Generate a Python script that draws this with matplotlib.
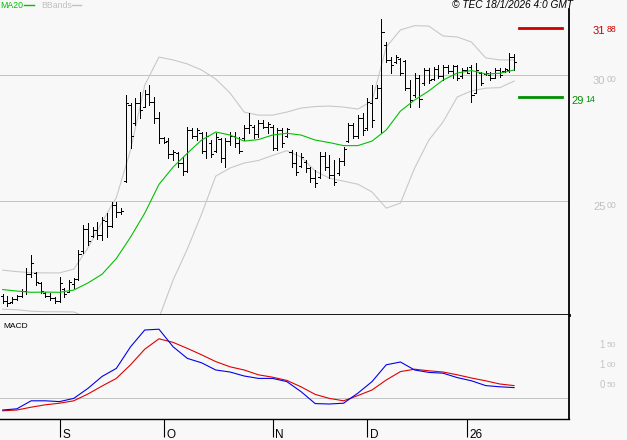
import matplotlib
matplotlib.use('Agg')
import matplotlib.pyplot as plt
import matplotlib.transforms as mtransforms
from matplotlib.lines import Line2D

plt.rcParams['font.family'] = ['Liberation Sans', 'DejaVu Sans']

# ---------------- data ----------------
high = [21.31, 21.23, 21.19, 21.27, 21.51, 22.34, 22.86, 22.18, 21.79, 21.39,
        21.35, 21.19, 21.98, 21.55, 21.86, 21.94, 23.06, 24.05, 24.13, 23.97,
        24.17, 24.37, 24.52, 24.96, 24.96, 24.72, 29.21, 28.89, 29.09, 29.33,
        29.41, 29.60, 29.13, 28.53, 27.54, 27.50, 27.02, 26.94, 26.75, 27.94,
        27.90, 27.90, 27.74, 27.74, 27.42, 27.70, 27.50, 27.50, 27.74, 27.74,
        27.54, 28.02, 28.49, 28.02, 28.21, 28.21, 28.14, 28.02, 27.90, 27.90,
        27.90, 27.02, 26.94, 26.90, 26.63, 26.35, 26.23, 26.94, 26.94, 26.83,
        26.63, 26.71, 27.14, 28.10, 28.10, 28.41, 28.49, 29.09, 29.60, 29.60,
        32.22, 31.31, 30.71, 30.79, 30.67, 30.60, 29.80, 30.08, 30.00, 30.28,
        30.28, 30.32, 30.40, 30.40, 30.40, 30.40, 30.40, 30.28, 30.32, 30.40,
        30.48, 30.12, 30.16, 30.12, 30.28, 30.28, 30.28, 30.87, 30.83]
low = [20.95, 20.83, 20.95, 21.07, 21.19, 21.31, 21.98, 21.67, 21.35, 21.19,
       21.07, 20.95, 20.99, 21.19, 21.39, 21.55, 21.86, 22.94, 23.25, 23.57,
       23.49, 23.45, 23.57, 23.97, 24.37, 24.48, 25.75, 27.10, 28.02, 28.29,
       28.73, 28.81, 28.10, 27.30, 27.30, 26.71, 26.63, 26.35, 26.03, 26.15,
       27.50, 27.42, 26.90, 26.71, 26.75, 26.94, 26.55, 26.35, 27.22, 27.14,
       26.90, 27.42, 27.70, 27.50, 27.54, 27.90, 27.70, 27.02, 27.02, 27.14,
       27.54, 26.35, 26.03, 26.35, 26.15, 25.75, 25.56, 25.91, 26.23, 25.91,
       25.63, 26.03, 26.43, 27.34, 27.50, 27.50, 27.62, 27.82, 27.94, 29.09,
       27.70, 30.52, 30.08, 30.48, 30.00, 29.41, 28.73, 29.13, 28.73, 29.60,
       29.68, 29.80, 29.88, 29.80, 30.08, 29.88, 29.80, 29.88, 30.08, 28.93,
       29.29, 29.60, 30.00, 29.80, 29.88, 29.92, 30.12, 30.12, 30.20]
open_ = [21.25, 21.05, 20.98, 21.10, 21.22, 21.45, 22.10, 22.15, 21.75, 21.35,
         21.25, 21.15, 21.05, 21.50, 21.40, 21.70, 21.90, 23.00, 23.90, 23.60,
         23.85, 23.65, 24.20, 24.00, 24.85, 24.55, 25.80, 28.80, 28.10, 28.90,
         28.75, 29.25, 28.95, 28.30, 27.50, 27.40, 26.85, 26.90, 26.50, 26.20,
         27.80, 27.60, 27.70, 27.00, 27.30, 27.00, 27.45, 26.70, 27.40, 27.60,
         27.30, 27.50, 27.90, 27.95, 27.65, 28.10, 27.95, 27.95, 27.10, 27.80,
         27.60, 26.95, 26.50, 26.40, 26.55, 26.30, 25.90, 25.95, 26.80, 26.35,
         26.05, 26.10, 26.60, 27.40, 28.00, 27.60, 28.30, 27.90, 28.90, 29.10,
         29.50, 31.20, 30.60, 30.50, 30.65, 30.55, 29.50, 29.20, 29.90, 29.70,
         30.20, 29.85, 30.25, 29.95, 30.30, 30.15, 30.35, 29.95, 30.20, 30.30,
         29.30, 30.10, 30.05, 30.00, 29.90, 30.20, 30.15, 30.20, 30.70]
close = [21.05, 20.95, 21.10, 21.22, 21.45, 22.10, 22.55, 21.80, 21.45, 21.25,
         21.15, 21.05, 21.75, 21.30, 21.80, 21.90, 22.90, 23.90, 23.40, 23.85,
         23.65, 24.25, 24.00, 24.85, 24.55, 24.60, 28.90, 27.60, 28.90, 28.60,
         29.25, 28.95, 28.30, 27.50, 27.35, 26.85, 26.95, 26.50, 26.20, 27.80,
         27.60, 27.80, 27.00, 27.60, 26.85, 27.55, 26.70, 27.40, 27.60, 27.30,
         27.00, 27.90, 28.00, 27.65, 28.10, 27.95, 28.05, 27.10, 27.80, 27.30,
         27.85, 26.50, 26.15, 26.75, 26.30, 25.90, 25.70, 26.80, 26.35, 26.05,
         25.75, 26.60, 27.05, 28.00, 27.60, 28.30, 27.80, 28.95, 28.20, 29.50,
         31.70, 30.60, 30.40, 30.70, 30.10, 29.50, 29.00, 29.90, 29.05, 30.20,
         29.80, 30.25, 29.95, 30.30, 30.15, 30.35, 29.90, 30.20, 30.10, 29.20,
         30.20, 29.70, 30.10, 29.90, 30.20, 30.00, 30.25, 30.70, 30.50]

# indicator lines, read every third session
line_idx = list(range(0, 109, 3))
ma20 = [21.49, 21.43, 21.38, 21.39, 21.38, 21.47, 21.75, 22.10, 22.72, 23.57,
        24.52, 25.66, 26.35, 26.90, 27.42, 27.74, 27.62, 27.38, 27.44, 27.62,
        27.69, 27.62, 27.42, 27.32, 27.20, 27.20, 27.38, 27.82, 28.57, 29.01,
        29.37, 29.80, 30.08, 30.18, 30.04, 30.07, 30.20]
bb_up = [22.26, 22.20, 22.16, 22.15, 22.15, 22.30, 23.14, 24.17, 25.14, 27.02,
         29.60, 30.71, 30.60, 30.44, 30.20, 29.84, 29.29, 28.53, 28.41, 28.41,
         28.53, 28.69, 28.75, 28.77, 28.73, 28.65, 28.97, 31.11, 31.79, 31.96,
         31.94, 31.55, 31.51, 31.31, 30.68, 30.60, 30.60]
bb_low = [20.71, 20.69, 20.63, 20.61, 20.61, 20.60, 20.36, 19.88, 19.29, 18.89,
          19.29, 20.36, 21.87, 23.10, 24.48, 25.99, 26.31, 26.51, 26.61, 26.81,
          27.00, 26.75, 26.19, 25.91, 25.79, 25.67, 25.36, 24.72, 24.92, 26.31,
          27.42, 28.14, 29.13, 29.37, 29.48, 29.50, 29.76]
macd = [-0.30, -0.27, -0.07, -0.07, -0.09, -0.01, 0.24, 0.54, 0.74, 1.28,
        1.70, 1.72, 1.28, 0.99, 0.88, 0.70, 0.65, 0.55, 0.49, 0.49,
        0.41, 0.16, -0.14, -0.15, -0.13, 0.12, 0.41, 0.83, 0.90, 0.70,
        0.64, 0.62, 0.51, 0.43, 0.31, 0.28, 0.26]
signal = [-0.32, -0.30, -0.23, -0.17, -0.13, -0.07, 0.10, 0.30, 0.49, 0.83,
          1.22, 1.48, 1.39, 1.24, 1.08, 0.91, 0.78, 0.70, 0.58, 0.52,
          0.44, 0.28, 0.09, -0.01, -0.07, 0.06, 0.20, 0.45, 0.66, 0.72,
          0.68, 0.65, 0.58, 0.50, 0.43, 0.35, 0.31]

month_pos = [12, 34, 57, 77, 98]
month_labels = ['S', 'O', 'N', 'D', '26']

resistance = 31.88
support = 29.14
price_ticks = [25.0, 30.0]
macd_ticks = [0.5, 1.0, 1.5]

# ---------------- style ----------------
BG = '#f8f8f8'
GRID = '#c4c4c4'
W, H = 627, 440
PX = 0.72  # one pixel in points


def fx(px):
    return px / W


def fy(py):
    return 1 - py / H


fig = plt.figure(figsize=(W / 100, H / 100), dpi=100, facecolor=BG)
ax = fig.add_axes([0, fy(315), fx(569), fy(9) - fy(315)], facecolor=BG)
axm = fig.add_axes([0, fy(419), fx(569), fy(315) - fy(419)], facecolor=BG, sharex=ax)

idx = list(range(len(close)))

# price panel
for v in price_ticks:
    ax.axhline(v, color=GRID, lw=PX, zorder=1)
ax.plot(line_idx, bb_up, color='#c8c8c8', lw=PX * 1.1, zorder=2)
ax.plot(line_idx, bb_low, color='#c8c8c8', lw=PX * 1.1, zorder=2)
ax.plot(line_idx, ma20, color='#00c000', lw=PX * 1.1, zorder=4)
ax.vlines(idx, low, high, color='black', lw=PX, antialiased=False, zorder=3)
ax.hlines(open_, [i - 0.45 for i in idx], idx, color='black', lw=PX,
          antialiased=False, zorder=3)
ax.hlines(close, idx, [i + 0.45 for i in idx], color='black', lw=PX,
          antialiased=False, zorder=3)
ax.axhline(resistance, xmin=519 / 569, xmax=562 / 569, color='#cc0000', lw=2.0)
ax.axhline(support, xmin=519 / 569, xmax=562 / 569, color='#009000', lw=2.0)

ax.set_xlim(-0.57, 119.6)
ax.set_ylim(20.48, 32.62)
for s in ['top', 'left']:
    ax.spines[s].set_visible(False)
ax.spines['right'].set_linewidth(1.3)
ax.spines['bottom'].set_linewidth(2.0)
ax.tick_params(left=False, bottom=False, labelleft=False, labelbottom=False)

# MACD panel
axm.axhline(0, color=GRID, lw=PX, zorder=1)
axm.plot(line_idx, signal, color='#dd0000', lw=PX * 1.1, zorder=2)
axm.plot(line_idx, macd, color='#0000ee', lw=PX * 1.1, zorder=3)
axm.set_ylim(-0.525, 2.075)
axm.spines['top'].set_visible(False)
axm.spines['left'].set_visible(False)
axm.spines['right'].set_linewidth(1.3)
axm.spines['bottom'].set_linewidth(1.0)
axm.set_xticks(month_pos)
axm.tick_params(axis='x', direction='out', length=13, width=0.8, color='black',
                labelbottom=False)
axm.tick_params(axis='y', left=False, labelleft=False)

# month labels right of tick
tr_month = mtransforms.blended_transform_factory(axm.transData, fig.transFigure)
tr_month = mtransforms.offset_copy(tr_month, fig=fig, x=2.5, y=0, units='dots')
for p, lab in zip(month_pos, month_labels):
    fig.text(p, fy(438), lab, transform=tr_month, fontsize=8.5, ha='left',
             va='baseline', color='black')

# right-hand value labels (whole part + small raised decimals)
tr_price = mtransforms.blended_transform_factory(fig.transFigure, ax.transData)
tr_macd = mtransforms.blended_transform_factory(fig.transFigure, axm.transData)


def value_label(v, x_main, x_dec, color, trans, big, small, top_off):
    whole = int(v + 1e-9)
    dec = int(round((v - whole) * 100))
    h_big = big / PX * 0.716
    h_small = small / PX * 0.716
    t1 = mtransforms.offset_copy(trans, fig=fig, x=0, y=-(top_off + h_big), units='dots')
    t2 = mtransforms.offset_copy(trans, fig=fig, x=0, y=-(top_off + h_small), units='dots')
    fig.text(fx(x_main), v, f"{whole}", transform=t1, fontsize=big,
             color=color, ha='left', va='baseline')
    fig.text(fx(x_dec), v, f"{dec:02d}", transform=t2, fontsize=small,
             color=color, ha='left', va='baseline')


for v in price_ticks:
    value_label(v, 593, 606.5, '#c0c0c0', tr_price, 8.0, 6.3, 1.0)
value_label(resistance, 593, 606.5, '#cc0000', tr_price, 8.0, 6.3, -1.5)
value_label(support, 571, 585, '#009000', tr_price, 8.0, 6.3, -1.0)
for v in macd_ticks:
    value_label(v, 599.5, 606.5, '#c4c4c4', tr_macd, 7.0, 6.0, 2.7)

# header / legend texts
fig.text(fx(512), fy(5), '\u00a9 TEC 18/1/2026 4:0 GMT', ha='center', va='center',
         style='italic', fontsize=7.3, color='black')
fig.text(fx(0), fy(5), 'MA20', ha='left', va='center', fontsize=6.3, color='#00c000')
fig.add_artist(Line2D([fx(24), fx(34)], [fy(5), fy(5)], color='#00c000', lw=1.0))
fig.text(fx(41), fy(5), 'BBands', ha='left', va='center', fontsize=6.3, color='#c0c0c0')
fig.add_artist(Line2D([fx(72), fx(81)], [fy(5), fy(5)], color='#c0c0c0', lw=1.0))
fig.text(fx(3), fy(327), 'MACD', ha='left', va='center', fontsize=6.0, color='black')

fig.savefig('out.png', dpi=100, facecolor=BG)
